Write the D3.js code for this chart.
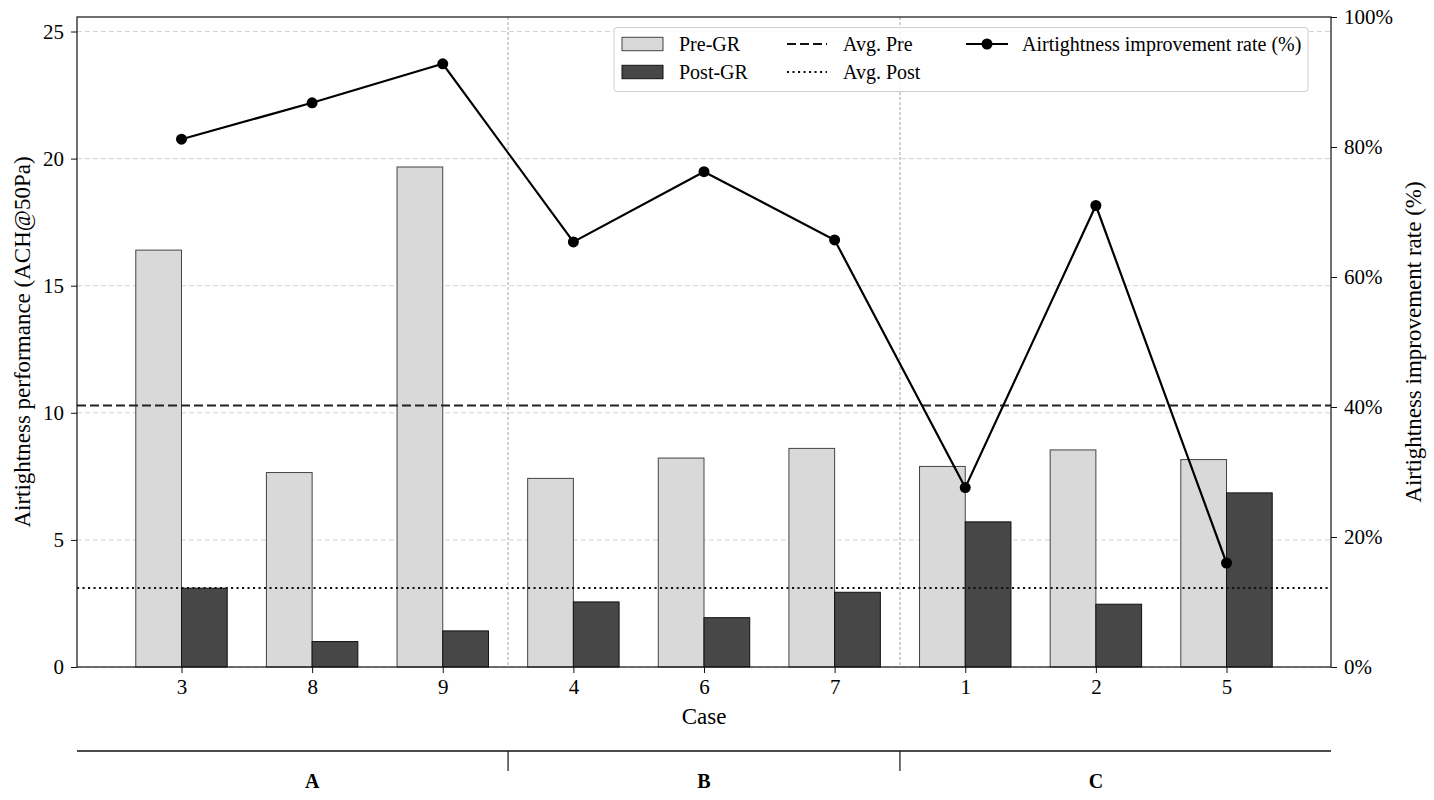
<!DOCTYPE html>
<html><head><meta charset="utf-8">
<script src="https://cdn.jsdelivr.net/npm/d3@7"></script>
<style>
body{margin:0;background:#fff}
svg{font-family:"Liberation Serif","Times New Roman",serif}
</style>
</head><body>
<svg id="c" width="1434" height="800"></svg>
<script>
// ---- data ----
const cases = ["3","8","9","4","6","7","1","2","5"];
const groupNames = ["A","B","C"];
const groupOf = ["A","A","A","B","B","B","C","C","C"];
const preGR  = [16.40, 7.65, 19.67, 7.42, 8.22, 8.60, 7.89, 8.54, 8.16];
const postGR = [3.10, 1.00, 1.42, 2.56, 1.94, 2.94, 5.71, 2.47, 6.85];
const rate   = [81.2, 86.8, 92.8, 65.4, 76.2, 65.7, 27.6, 71.0, 16.0];
const averages = [10.29, 3.11]; // Avg. Pre, Avg. Post
const leftTicks = [0, 5, 10, 15, 20, 25];
const rightTicks = [0, 20, 40, 60, 80, 100];

// ---- layout ----
const L = 77, R = 1331, T = 17, B = 667;
const svg = d3.select("#c");
const x = d3.scaleLinear().domain([-0.8, 8.8]).range([L, R]);
const yL = d3.scaleLinear().domain([0, d3.max(preGR) * 1.3]).range([B, T]);
const yR = d3.scaleLinear().domain([0, 100]).range([B, T]);
const bw = 0.35;
const idx = d3.range(cases.length);

// grid
svg.append("g").selectAll("line").data(leftTicks).join("line")
  .attr("x1", L).attr("x2", R).attr("y1", d => yL(d)).attr("y2", d => yL(d))
  .attr("stroke", "#d4d4d4").attr("stroke-width", 1).attr("stroke-dasharray", "5,3");

// group separators
const seps = [];
groupNames.forEach((g, k) => { if (k > 0) seps.push(groupOf.indexOf(g) - 0.5); });
svg.append("g").selectAll("line").data(seps).join("line")
  .attr("x1", d => x(d)).attr("x2", d => x(d)).attr("y1", T).attr("y2", B)
  .attr("stroke", "#9a9a9a").attr("stroke-width", 0.9).attr("stroke-dasharray", "3,2");

// bars
svg.append("g").selectAll("rect").data(idx).join("rect")
  .attr("x", i => x(i - bw)).attr("width", i => x(i) - x(i - bw))
  .attr("y", i => yL(preGR[i])).attr("height", i => B - yL(preGR[i]))
  .attr("fill", "#d9d9d9").attr("stroke", "#444").attr("stroke-width", 1);
svg.append("g").selectAll("rect").data(idx).join("rect")
  .attr("x", i => x(i)).attr("width", i => x(i + bw) - x(i))
  .attr("y", i => yL(postGR[i])).attr("height", i => B - yL(postGR[i]))
  .attr("fill", "#474747").attr("stroke", "#111").attr("stroke-width", 1);

// average lines
svg.append("line").attr("x1", L).attr("x2", R)
  .attr("y1", yL(averages[0])).attr("y2", yL(averages[0]))
  .attr("stroke", "#222").attr("stroke-width", 2.1).attr("stroke-dasharray", "9,4");
svg.append("line").attr("x1", L).attr("x2", R)
  .attr("y1", yL(averages[1])).attr("y2", yL(averages[1]))
  .attr("stroke", "#111").attr("stroke-width", 2.1).attr("stroke-dasharray", "2.1,3.4");

// rate line
const line = d3.line().x(i => x(i)).y(i => yR(rate[i]));
svg.append("path").datum(idx).attr("d", line)
  .attr("fill", "none").attr("stroke", "#000").attr("stroke-width", 2.2);
svg.append("g").selectAll("circle").data(idx).join("circle")
  .attr("cx", i => x(i)).attr("cy", i => yR(rate[i])).attr("r", 5.5).attr("fill", "#000");

// frame
svg.append("rect").attr("x", L).attr("y", T).attr("width", R - L).attr("height", B - T)
  .attr("fill", "none").attr("stroke", "#111").attr("stroke-width", 1.2);

// axes
const fs = "21px";
const ax = svg.append("g").attr("transform", `translate(${L},0)`)
  .call(d3.axisLeft(yL).tickValues(leftTicks).tickSize(6).tickPadding(7));
const axR = svg.append("g").attr("transform", `translate(${R},0)`)
  .call(d3.axisRight(yR).tickValues(rightTicks).tickSize(6).tickPadding(7).tickFormat(d => d + "%"));
const axB = svg.append("g").attr("transform", `translate(0,${B})`)
  .call(d3.axisBottom(x).tickValues(idx).tickSize(6).tickPadding(6).tickFormat(i => cases[i]));
[ax, axR, axB].forEach(a => {
  a.select(".domain").remove();
  a.selectAll("text").attr("font-size", fs).attr("font-family", "Liberation Serif").attr("fill", "#000");
  a.selectAll("line").attr("stroke", "#111");
});

// axis labels
svg.append("text").attr("transform", `translate(22,${(T + B) / 2}) rotate(-90)`)
  .attr("text-anchor", "middle").attr("dominant-baseline", "central")
  .attr("font-size", "23px").text("Airtightness performance (ACH@50Pa)");
svg.append("text").attr("transform", `translate(1413,${(T + B) / 2}) rotate(-90)`)
  .attr("text-anchor", "middle").attr("dominant-baseline", "central")
  .attr("font-size", "23px").text("Airtightness improvement rate (%)");
svg.append("text").attr("x", (L + R) / 2).attr("y", 716)
  .attr("text-anchor", "middle").attr("dominant-baseline", "central")
  .attr("font-size", "23px").text("Case");

// group bracket
const gy = 751;
svg.append("line").attr("x1", L).attr("x2", R).attr("y1", gy).attr("y2", gy)
  .attr("stroke", "#111").attr("stroke-width", 1.6);
svg.append("g").selectAll("line").data(seps).join("line")
  .attr("x1", d => x(d)).attr("x2", d => x(d)).attr("y1", gy).attr("y2", gy + 20)
  .attr("stroke", "#111").attr("stroke-width", 1.2);
svg.append("g").selectAll("text").data(groupNames).join("text")
  .attr("x", g => {
    const ii = idx.filter(i => groupOf[i] === g);
    return x(d3.mean(ii));
  })
  .attr("y", 781).attr("text-anchor", "middle").attr("dominant-baseline", "central")
  .attr("font-size", "20px").attr("font-weight", "bold").text(g => g);

// legend
const lg = svg.append("g");
lg.append("rect").attr("x", 614).attr("y", 27.5).attr("width", 694).attr("height", 64)
  .attr("rx", 3).attr("fill", "#fff").attr("fill-opacity", 0.85)
  .attr("stroke", "#cfcfcf").attr("stroke-width", 1);
const r1 = 44, r2 = 72, lfs = "20px";
const items = [
  {type: "patch", fill: "#d9d9d9", stroke: "#444", x: 622, y: r1, label: "Pre-GR"},
  {type: "patch", fill: "#474747", stroke: "#111", x: 622, y: r2, label: "Post-GR"},
  {type: "dash", dash: "9,4", x: 787, y: r1, label: "Avg. Pre"},
  {type: "dash", dash: "2.1,3.4", x: 787, y: r2, label: "Avg. Post"},
  {type: "marker", x: 966, y: r1, label: "Airtightness improvement rate (%)"}
];
items.forEach(it => {
  if (it.type === "patch") {
    lg.append("rect").attr("x", it.x).attr("y", it.y - 6.7).attr("width", 41).attr("height", 13.4)
      .attr("fill", it.fill).attr("stroke", it.stroke).attr("stroke-width", 1);
    lg.append("text").attr("x", it.x + 57).attr("y", it.y).attr("dominant-baseline", "central")
      .attr("font-size", lfs).text(it.label);
  } else if (it.type === "dash") {
    lg.append("line").attr("x1", it.x).attr("x2", it.x + 40).attr("y1", it.y).attr("y2", it.y)
      .attr("stroke", "#111").attr("stroke-width", 2.1).attr("stroke-dasharray", it.dash);
    lg.append("text").attr("x", it.x + 56).attr("y", it.y).attr("dominant-baseline", "central")
      .attr("font-size", lfs).text(it.label);
  } else {
    lg.append("line").attr("x1", it.x).attr("x2", it.x + 42).attr("y1", it.y).attr("y2", it.y)
      .attr("stroke", "#000").attr("stroke-width", 2.2);
    lg.append("circle").attr("cx", it.x + 21).attr("cy", it.y).attr("r", 5.5).attr("fill", "#000");
    lg.append("text").attr("x", it.x + 56).attr("y", it.y).attr("dominant-baseline", "central")
      .attr("font-size", lfs).text(it.label);
  }
});
</script>
</body></html>
